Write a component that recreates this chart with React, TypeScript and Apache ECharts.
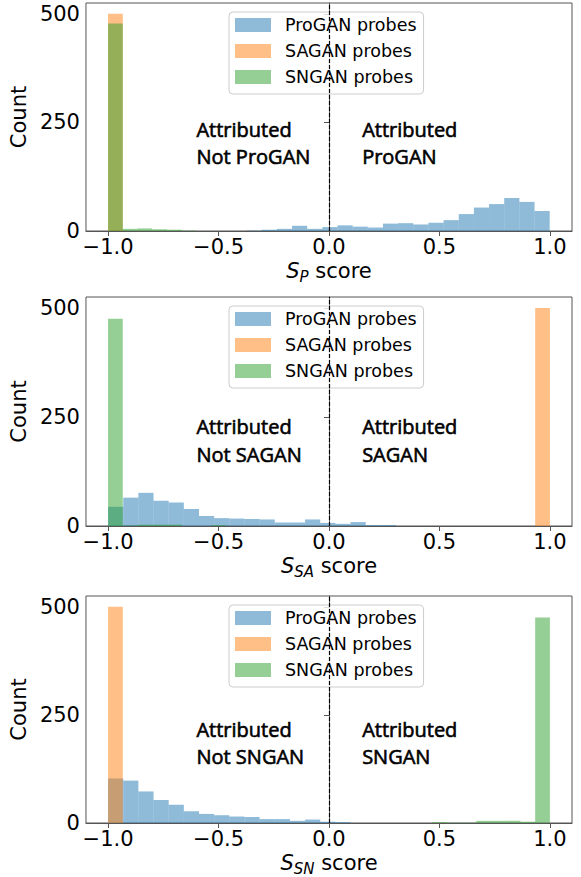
import React, { useEffect, useRef } from "react";
import * as echarts from "echarts";

const seriesNames = ["ProGAN probes", "SAGAN probes", "SNGAN probes"];
const seriesColors = ["rgba(31,119,180,0.5)", "rgba(255,127,14,0.5)", "rgba(44,160,44,0.5)"];
const xTicks = [-1, -0.5, 0, 0.5, 1];
const yTicks = [0, 250, 500];

// common bin grid for SAGAN / SNGAN probes
const commonStart = -1;
const commonWidth = 1 / 15;
// ProGAN probe bins
const blueWidth = 0.0686;
const p1BlueStart = -1.059;
const p23BlueStart = -1;

// Panel 1: S_P score
const p1Blue = [0, 0, 0, 0, 0, 0, 0, 0, 0, 0, 1, 3, 5, 12, 5, 9, 13, 10, 8, 17, 18, 15, 19, 25, 39, 54, 62, 76, 67, 46];
const p1Orange = [500];
const p1Green = [478, 5, 6, 4, 3, 1];

// Panel 2: S_SA score
const p2Blue = [44, 65, 76, 58, 54, 39, 23, 18, 17, 16, 15, 8, 8, 15, 7, 5, 9, 2, 2];
const p2Orange = [0, 0, 0, 0, 0, 0, 0, 0, 0, 0, 0, 0, 0, 0, 0, 0, 0, 0, 0, 0, 0, 0, 0, 0, 0, 0, 0, 0, 0, 500];
const p2Green = [475, 1, 3, 3, 3, 0, 0, 2];

// Panel 3: S_SN score
const p3Blue = [103, 98, 73, 53, 42, 27, 21, 18, 15, 14, 9, 9, 5, 8, 3, 2];
const p3Orange = [500];
const p3Green = [0, 0, 0, 0, 0, 0, 0, 0, 0, 0, 0, 0, 0, 0, 0, 0, 0, 0, 0, 0, 0, 0, 2, 1, 1, 5, 5, 5, 3, 475];

const subscripts = ["P", "SA", "SN"];
const notLabels = ["Not ProGAN", "Not SAGAN", "Not SNGAN"];
const yesLabels = ["ProGAN", "SAGAN", "SNGAN"];
const annotX = [-0.6, 0.15];
const annotY = [203, 196, 185];

const panels = [
  { blue: p1Blue, blueStart: p1BlueStart, orange: p1Orange, green: p1Green },
  { blue: p2Blue, blueStart: p23BlueStart, orange: p2Orange, green: p2Green },
  { blue: p3Blue, blueStart: p23BlueStart, orange: p3Orange, green: p3Green },
];

const gridTops = [3, 297, 596];
const gridHeights = [228, 229, 228];

function toBins(counts: number[], start: number, width: number) {
  return counts.map((c, i) => [start + i * width, start + (i + 1) * width, c]);
}

export default function App() {
  const ref = useRef<HTMLDivElement>(null);
  useEffect(() => {
    if (!ref.current) return;
    const chart = echarts.init(ref.current, null, { renderer: "svg" });
    const font = "DejaVu Sans";
    const grid: any[] = [];
    const xAxis: any[] = [];
    const yAxis: any[] = [];
    const series: any[] = [];
    const legend: any[] = [];

    panels.forEach((p, i) => {
      grid.push({
        left: 82,
        width: 490,
        top: gridTops[i],
        height: gridHeights[i],
        show: true,
        borderColor: "#555",
        borderWidth: 1,
        backgroundColor: "transparent",
      });
      xAxis.push({
        type: "value",
        gridIndex: i,
        min: -1.1,
        max: 1.1,
        axisLine: { show: true, onZero: false, lineStyle: { color: "#555" } },
        axisTick: { show: true, customValues: xTicks, length: 5, lineStyle: { color: "#555" } },
        axisLabel: {
          customValues: xTicks,
          formatter: (v: number) => v.toFixed(1).replace("-", "\u2212"),
          fontSize: 21,
          color: "#000",
          fontFamily: font,
          margin: 5,
        },
        splitLine: { show: false },
        name: `{s|S}{sub|${subscripts[i]}}{t| score}`,
        nameLocation: "middle",
        nameGap: 27,
        nameTextStyle: {
          color: "#000",
          fontFamily: font,
          fontSize: 21,
          rich: {
            s: { fontStyle: "italic", fontSize: 21, fontFamily: font, color: "#000", lineHeight: 26, verticalAlign: "middle" },
            sub: { fontStyle: "italic", fontSize: 15, fontFamily: font, color: "#000", verticalAlign: "bottom", lineHeight: 15 },
            t: { fontSize: 21, fontFamily: font, color: "#000", lineHeight: 26, verticalAlign: "middle" },
          },
        },
      });
      yAxis.push({
        type: "value",
        gridIndex: i,
        min: 0,
        max: 525,
        axisLine: { show: true, lineStyle: { color: "#555" } },
        axisTick: { show: true, customValues: yTicks, length: 5, lineStyle: { color: "#555" } },
        axisLabel: { customValues: yTicks, fontSize: 21, color: "#000", fontFamily: font, margin: 6 },
        splitLine: { show: false },
        name: "Count",
        nameLocation: "middle",
        nameGap: 47,
        nameTextStyle: { color: "#000", fontFamily: font, fontSize: 21 },
      });

      const sets = [
        toBins(p.blue, p.blueStart, blueWidth),
        toBins(p.orange, commonStart, commonWidth),
        toBins(p.green, commonStart, commonWidth),
      ];
      sets.forEach((data, k) => {
        const color = seriesColors[k];
        series.push({
          type: "custom",
          name: seriesNames[k],
          xAxisIndex: i,
          yAxisIndex: i,
          silent: true,
          itemStyle: { color },
          encode: { x: [0, 1], y: 2 },
          data,
          renderItem: (params: any, api: any) => {
            const x0 = api.value(0);
            const x1 = api.value(1);
            const y = api.value(2);
            if (!y) return null;
            const a = api.coord([x0, y]);
            const b = api.coord([x1, 0]);
            return {
              type: "rect",
              shape: { x: a[0], y: a[1], width: b[0] - a[0], height: b[1] - a[1] },
              style: { fill: color },
            };
          },
          markLine:
            k === 0
              ? {
                  silent: true,
                  symbol: ["none", "none"],
                  label: { show: false },
                  lineStyle: { color: "#000", type: [4, 2], width: 1.2, opacity: 1 },
                  data: [{ xAxis: 0 }],
                }
              : undefined,
        });
      });

      series.push({
        type: "scatter",
        xAxisIndex: i,
        yAxisIndex: i,
        silent: true,
        symbolSize: 0,
        itemStyle: { opacity: 1 },
        emphasis: { disabled: true },
        data: [
          { value: [annotX[0], annotY[i]], text: "Attributed\n" + notLabels[i] },
          { value: [annotX[1], annotY[i]], text: "Attributed\n" + yesLabels[i] },
        ],
        label: {
          show: true,
          position: [0, 0],
          align: "left",
          verticalAlign: "middle",
          formatter: (d: any) => d.data.text,
          fontFamily: "Open Sans",
          fontSize: 20,
          lineHeight: 27.5,
          color: "#000",
          textBorderColor: "#000",
          textBorderWidth: 0.6,
          opacity: 1,
        },
      });

      legend.push({
        orient: "vertical",
        left: 229,
        top: gridTops[i] + 9,
        itemWidth: 36,
        itemHeight: 14,
        itemGap: 8,
        padding: [4, 7, 8, 6],
        backgroundColor: "rgba(255,255,255,0.8)",
        borderColor: "#ccc",
        borderWidth: 1,
        borderRadius: 4,
        selectedMode: false,
        icon: "rect",
        textStyle: { fontFamily: font, fontSize: 17.5, color: "#000", lineHeight: 18, padding: [0, 0, 0, 9] },
        data: seriesNames.map((n, k) => ({ name: n, itemStyle: { color: seriesColors[k] } })),
      });
    });

    chart.setOption({
      animation: false,
      grid,
      xAxis,
      yAxis,
      series,
      legend,
    });
    return () => chart.dispose();
  }, []);
  return (
    <div
      ref={ref}
      style={{ position: "fixed", left: 0, top: 0, width: 581, height: 877, background: "#fff" }}
    />
  );
}
